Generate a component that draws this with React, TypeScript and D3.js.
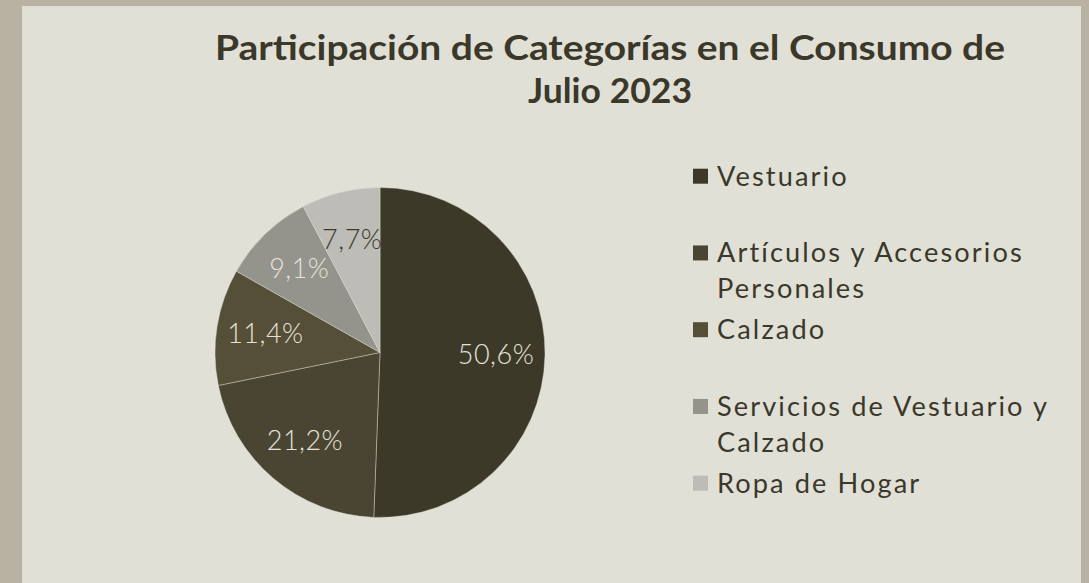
import React from "react";
import * as d3 from "d3";

const categories = [
  "Vestuario",
  "Artículos y Accesorios Personales",
  "Calzado",
  "Servicios de Vestuario y Calzado",
  "Ropa de Hogar",
];
const shares = [50.6, 21.2, 11.4, 9.1, 7.7];
const legendLines = [
  ["Vestuario"],
  ["Artículos y Accesorios", "Personales"],
  ["Calzado"],
  ["Servicios de Vestuario y", "Calzado"],
  ["Ropa de Hogar"],
];
const titleLines = ["Participación de Categorías en el Consumo de", "Julio 2023"];

const colors = ["#3c3928", "#4a4532", "#564f37", "#94948c", "#bdbcb7"];
const labelColors = ["#e4e2da", "#e4e2da", "#e4e2da", "#e4e2da", "#3c3928"];
const W = 1089;
const H = 583;
const cx = 380;
const cy = 352.5;
const R = 165;
const FONT = "Lato, 'Noto Sans', sans-serif";
const TEXT = "#3b382a";

const fmt = (v: number) => v.toFixed(1).replace(".", ",") + "%";

export default function App() {
  const pie = d3
    .pie<number>()
    .sort(null)
    .value((d) => d)
    .startAngle(0)
    .endAngle(2 * Math.PI);
  const arcs = pie(shares);
  const arc = d3.arc<d3.PieArcDatum<number>>().innerRadius(0).outerRadius(R);
  const labelArc = d3
    .arc<d3.PieArcDatum<number>>()
    .innerRadius(116)
    .outerRadius(116);

  const legendY = d3
    .scaleLinear()
    .domain([0, categories.length - 1])
    .range([185.7, 492.7]);

  return (
    <svg
      width={W}
      height={H}
      style={{ position: "fixed", left: 0, top: 0 }}
      fontFamily={FONT}
    >
      <rect x={0} y={0} width={W} height={H} fill="#b9b2a2" />
      <rect x={22} y={6} width={1059} height={H} fill="#e0e0d7" />

      {titleLines.map((t, i) => (
        <text
          key={i}
          x={610}
          y={60 + i * 43.3}
          textAnchor="middle"
          fontSize={34}
          fontWeight={700}
          fill={TEXT}
          textLength={i === 0 ? 790 : 164}
          lengthAdjust="spacingAndGlyphs"
        >
          {t}
        </text>
      ))}

      <g transform={`translate(${cx},${cy})`}>
        {arcs.map((a, i) => (
          <path
            key={i}
            d={arc(a) || ""}
            fill={colors[i]}
            stroke="#e0e0d7"
            strokeWidth={0.6}
            strokeOpacity={0.7}
          />
        ))}
        {arcs.map((a, i) => {
          const [x, y] = labelArc.centroid(a);
          return (
            <text
              key={i}
              x={x}
              y={y + 9}
              textAnchor="middle"
              fontSize={27}
              fontWeight={300}
              fill={labelColors[i]}
              letterSpacing={0.5}
            >
              {fmt(shares[i])}
            </text>
          );
        })}
      </g>

      {categories.map((c, i) => {
        const base = legendY(i);
        return (
          <g key={c}>
            <rect x={693} y={base - 17} width={15} height={15} fill={colors[i]} />
            {legendLines[i].map((l, j) => (
              <text
                key={j}
                x={717}
                y={base + j * 35.6}
                fontSize={27.2}
                fill={TEXT}
                letterSpacing={2.1}
              >
                {l}
              </text>
            ))}
          </g>
        );
      })}
    </svg>
  );
}
